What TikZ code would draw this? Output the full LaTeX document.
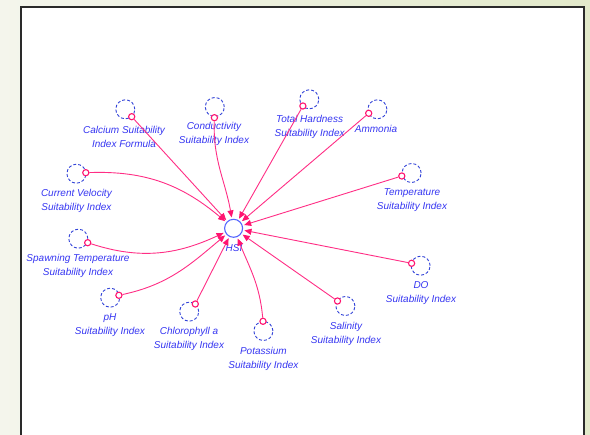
\documentclass[tikz,border=0pt]{standalone}
\usepackage{fontspec}
\setmainfont{Liberation Sans}
\usetikzlibrary{arrows.meta}

\definecolor{linkpink}{HTML}{FF2E85}
\definecolor{tippink}{HTML}{FF1470}
\definecolor{varblue}{HTML}{3636F2}
\definecolor{ghostblue}{HTML}{3344D8}
\definecolor{hsiblue}{HTML}{5566FF}
\definecolor{framegray}{HTML}{2A2A2A}
\definecolor{bgA}{HTML}{F4F5EC}
\definecolor{bgB}{HTML}{E2E9CA}

\tikzset{
  ghost/.style={circle, draw=ghostblue, dash pattern=on 3pt off 2pt,
    line width=0.9pt, minimum size=19pt, inner sep=0pt},
  src/.style={circle, draw=tippink, line width=1.1pt, fill=white,
    minimum size=6.2pt, inner sep=0pt},
  lbl/.style={font=\itshape\fontsize{10}{14}\selectfont, text=varblue,
    align=center, inner sep=0pt},
  hsinode/.style={circle, draw=hsiblue, line width=1.1pt, fill=white,
    minimum size=18pt, inner sep=0pt},
  link/.style={draw=linkpink, line width=0.9pt,
    -{Triangle[length=7pt,width=6pt,color=tippink]}, shorten >=1.5pt},
}

\begin{document}
\begin{tikzpicture}[x=1pt,y=1pt]
  \useasboundingbox (0,0) rectangle (590,435);
  \clip (0,0) rectangle (590,435);

  % slide background and model canvas
  \shade[left color=bgA, right color=bgB] (0,0) rectangle (590,435);
  \draw[draw=framegray, line width=2.2pt, fill=white] (21,-10) rectangle (583.8,428);

  % aggregate variable
  \node[hsinode] (hsi) at (233.6,206.7) {};
  \node[lbl] (hsilbl) at (234,186.7) {HSI};

  % input variables: cloud, source point, caption
  \node[ghost] (calG) at (125.3,325.7) {};
  \node[src]   (calD) at (131.7,318.3) {};
  \node[lbl]   (calL) at (124,298.5) {Calcium Suitability\\Index Formula};

  \node[ghost] (conG) at (214.8,328) {};
  \node[src]   (conD) at (214.4,317.3) {};
  \node[lbl]   (conL) at (214,300.7) {Conductivity\\Suitability Index};

  \node[ghost] (thaG) at (309.3,335.7) {};
  \node[src]   (thaD) at (302.9,329) {};
  \node[lbl]   (thaL) at (309.6,308.2) {Total Hardness\\Suitability Index};

  \node[ghost] (ammG) at (377.4,325.7) {};
  \node[src]   (ammD) at (368.7,321.7) {};
  \node[lbl]   (ammL) at (376,305.7) {Ammonia};

  \node[ghost] (temG) at (411.6,262) {};
  \node[src]   (temD) at (401.8,259) {};
  \node[lbl]   (temL) at (412,234.9) {Temperature\\Suitability Index};

  \node[ghost] (doG) at (420.6,169.3) {};
  \node[src]   (doD) at (411.6,171.7) {};
  \node[lbl]   (doL) at (421,142.3) {DO\\Suitability Index};

  \node[ghost] (salG) at (345.4,129) {};
  \node[src]   (salD) at (337.5,134) {};
  \node[lbl]   (salL) at (346,101.3) {Salinity\\Suitability Index};

  \node[ghost] (potG) at (263.4,104) {};
  \node[src]   (potD) at (263,113.7) {};
  \node[lbl]   (potL) at (263.4,76.3) {Potassium\\Suitability Index};

  \node[ghost] (chlG) at (189.2,123.3) {};
  \node[src]   (chlD) at (195.3,131) {};
  \node[lbl]   (chlL) at (189,95.9) {Chlorophyll a\\Suitability Index};

  \node[ghost] (phG) at (110.2,137.3) {};
  \node[src]   (phD) at (118.9,139.7) {};
  \node[lbl]   (phL) at (110,109.7) {pH\\Suitability Index};

  \node[ghost] (spwG) at (78.3,196.3) {};
  \node[src]   (spwD) at (87.7,192.3) {};
  \node[lbl]   (spwL) at (78,169.2) {Spawning Temperature\\Suitability Index};

  \node[ghost] (cvG) at (76.4,261.3) {};
  \node[src]   (cvD) at (85.8,262.3) {};
  \node[lbl]   (cvL) at (76.4,233.7) {Current Velocity\\Suitability Index};

  % links into HSI
  \draw[link] (calD) -- (hsi);
  \draw[link] (conD) to[out=-92,in=100] (hsi);
  \draw[link] (thaD) -- (hsi);
  \draw[link] (ammD) -- (hsi);
  \draw[link] (temD) -- (hsi);
  \draw[link] (doD) -- (hsi);
  \draw[link] (salD) -- (hsi);
  \draw[link] (potD) to[out=95,in=-68] (hsi);
  \draw[link] (chlD) -- (hsi);
  \draw[link] (phD) to[out=12,in=-140] (hsi);
  \draw[link] (spwD) to[out=-18,in=-155] (hsi);
  \draw[link] (cvD) to[out=2,in=140] (hsi);
\end{tikzpicture}
\end{document}
